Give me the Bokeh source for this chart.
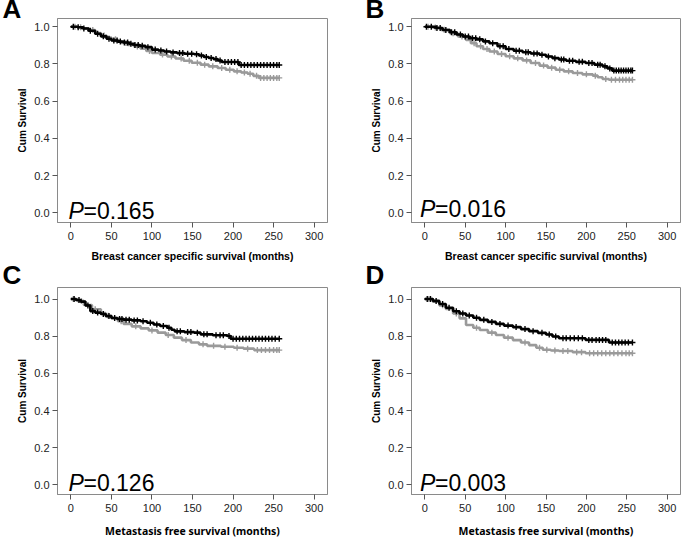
import numpy as np
from bokeh.plotting import figure
from bokeh.models import Label, FixedTicker, NumeralTickFormatter, Range1d
from bokeh.layouts import column, row
from bokeh.embed import file_html
from bokeh.resources import INLINE

# ---------------- data ----------------
x_ticks = [0, 50, 100, 150, 200, 250, 300]
y_ticks = [0.0, 0.2, 0.4, 0.6, 0.8, 1.0]
panel_letters = ["A", "B", "C", "D"]
x_labels = ["Breast cancer specific survival (months)",
            "Breast cancer specific survival (months)",
            "Metastasis free survival (months)",
            "Metastasis free survival (months)"]
p_values = ["=0.165", "=0.016", "=0.126", "=0.003"]
y_label = "Cum Survival"

# Panel A
A_black_t = [0, 8, 15, 22, 30, 37, 44, 50, 58, 65, 72, 78, 85, 92, 100, 108, 115, 123, 131, 140, 152, 158, 164, 170, 176, 181, 186, 207]
A_black_s = [1.000, 0.997, 0.990, 0.978, 0.962, 0.948, 0.935, 0.926, 0.920, 0.915, 0.908, 0.902, 0.897, 0.890, 0.877, 0.872, 0.867, 0.862, 0.858, 0.855, 0.852, 0.845, 0.837, 0.832, 0.826, 0.818, 0.810, 0.794]
A_black_end = 257
A_gray_t = [0, 8, 15, 22, 30, 37, 44, 50, 56, 62, 70, 78, 86, 93, 100, 110, 119, 129, 139, 149, 160, 170, 181, 191, 201, 210, 218, 225, 232]
A_gray_s = [1.000, 0.997, 0.992, 0.982, 0.966, 0.953, 0.942, 0.932, 0.922, 0.912, 0.902, 0.893, 0.882, 0.870, 0.859, 0.850, 0.840, 0.829, 0.817, 0.806, 0.796, 0.787, 0.778, 0.769, 0.760, 0.754, 0.747, 0.736, 0.725]
A_gray_end = 257
A_black_cens = [3, 9, 16, 24, 33, 40, 47, 53, 57, 61, 66, 70, 74, 79, 83, 88, 95, 104, 111, 118, 126, 134, 138, 144, 149, 155, 161, 167, 173, 179, 184, 190, 194, 198, 202, 206, 210, 214, 218, 222, 226, 230, 234, 238, 242, 246, 250, 254, 257]
A_gray_cens = [5, 12, 27, 41, 55, 68, 82, 97, 113, 124, 136, 146, 156, 165, 175, 186, 196, 205, 214, 221, 229, 234, 238, 242, 246, 250, 254, 257]

# Panel B
B_black_t = [0, 14, 22, 31, 39, 47, 55, 64, 72, 80, 90, 100, 110, 121, 131, 142, 150, 158, 166, 175, 187, 199, 210, 220, 226, 232]
B_black_s = [1.000, 0.993, 0.982, 0.970, 0.958, 0.947, 0.938, 0.932, 0.921, 0.911, 0.895, 0.880, 0.871, 0.863, 0.856, 0.849, 0.840, 0.831, 0.824, 0.817, 0.811, 0.805, 0.796, 0.787, 0.776, 0.764]
B_black_end = 257
B_gray_t = [0, 10, 20, 31, 41, 51, 57, 64, 72, 80, 90, 100, 110, 121, 131, 142, 152, 162, 172, 183, 195, 208, 214, 220, 228]
B_gray_s = [1.000, 0.995, 0.983, 0.965, 0.947, 0.929, 0.911, 0.895, 0.880, 0.867, 0.853, 0.841, 0.830, 0.819, 0.805, 0.791, 0.780, 0.769, 0.760, 0.751, 0.744, 0.737, 0.728, 0.719, 0.715]
B_gray_end = 257
B_black_cens = [2, 8, 15, 19, 26, 33, 37, 44, 50, 54, 59, 63, 68, 75, 84, 93, 97, 104, 113, 117, 125, 128, 135, 139, 145, 153, 161, 169, 172, 179, 183, 191, 195, 203, 207, 214, 217, 223, 229, 234, 237, 240, 243, 246, 249, 252, 255, 257]
B_gray_cens = [4, 13, 24, 35, 46, 61, 69, 77, 86, 95, 105, 115, 126, 137, 147, 157, 167, 178, 189, 200, 211, 224, 231, 236, 241, 245, 249, 253, 257]

# Panel C
C_black_t = [0, 6, 12, 18, 24, 30, 37, 43, 50, 57, 65, 75, 86, 94, 102, 110, 119, 124, 128, 140, 152, 160, 175, 193, 197]
C_black_s = [1.000, 0.995, 0.986, 0.965, 0.935, 0.927, 0.919, 0.908, 0.898, 0.893, 0.889, 0.885, 0.880, 0.872, 0.863, 0.855, 0.845, 0.835, 0.826, 0.822, 0.819, 0.810, 0.805, 0.801, 0.786]
C_black_end = 257
C_gray_t = [0, 8, 16, 26, 37, 43, 50, 58, 65, 75, 86, 96, 107, 117, 127, 137, 148, 158, 168, 185, 201, 213, 226]
C_gray_s = [1.000, 0.990, 0.968, 0.945, 0.924, 0.910, 0.897, 0.880, 0.866, 0.853, 0.842, 0.831, 0.819, 0.806, 0.792, 0.779, 0.766, 0.756, 0.748, 0.743, 0.738, 0.733, 0.725]
C_gray_end = 257
C_black_cens = [4, 10, 21, 27, 33, 40, 47, 54, 60, 63, 68, 72, 78, 82, 89, 98, 106, 114, 121, 131, 135, 144, 148, 156, 164, 168, 179, 184, 188, 195, 200, 204, 208, 212, 216, 220, 224, 228, 232, 236, 240, 244, 248, 252, 257]
C_gray_cens = [3, 13, 30, 46, 62, 80, 100, 120, 142, 163, 176, 190, 205, 218, 230, 235, 240, 245, 250, 254, 257]

# Panel D
D_black_t = [0, 10, 18, 26, 35, 43, 51, 60, 68, 78, 88, 98, 109, 119, 129, 140, 150, 158, 166, 199, 228]
D_black_s = [1.000, 0.990, 0.973, 0.953, 0.934, 0.922, 0.911, 0.899, 0.888, 0.877, 0.866, 0.857, 0.849, 0.838, 0.827, 0.818, 0.809, 0.798, 0.789, 0.780, 0.766]
D_black_end = 257
D_gray_t = [0, 10, 18, 26, 35, 43, 51, 60, 68, 78, 88, 98, 109, 119, 129, 138, 146, 156, 166, 183, 199]
D_gray_s = [1.000, 0.985, 0.966, 0.946, 0.922, 0.896, 0.860, 0.845, 0.833, 0.819, 0.806, 0.792, 0.779, 0.766, 0.752, 0.738, 0.727, 0.723, 0.720, 0.714, 0.708]
D_gray_end = 257
D_black_cens = [3, 7, 14, 22, 30, 39, 47, 55, 64, 73, 83, 93, 103, 113, 124, 134, 145, 154, 162, 171, 175, 180, 185, 190, 195, 203, 207, 212, 216, 220, 224, 232, 236, 240, 244, 248, 252, 257]
D_gray_cens = [5, 22, 39, 64, 83, 103, 124, 142, 151, 161, 171, 177, 188, 194, 204, 209, 214, 219, 224, 229, 234, 239, 244, 249, 253, 257]

curves = [
    (A_black_t, A_black_s, A_black_end, A_black_cens, A_gray_t, A_gray_s, A_gray_end, A_gray_cens),
    (B_black_t, B_black_s, B_black_end, B_black_cens, B_gray_t, B_gray_s, B_gray_end, B_gray_cens),
    (C_black_t, C_black_s, C_black_end, C_black_cens, C_gray_t, C_gray_s, C_gray_end, C_gray_cens),
    (D_black_t, D_black_s, D_black_end, D_black_cens, D_gray_t, D_gray_s, D_gray_end, D_gray_cens),
]

BLACK = "#000000"
GRAY = "#9a9a9a"
FRAME = "#8a8a8a"


def draw_km(p, t, s, end, cens, color):
    xs = list(t) + [end]
    ys = list(s) + [s[-1]]
    p.step(x=xs, y=ys, mode="after", line_color=color, line_width=2.6)
    idx = np.searchsorted(np.array(t), np.array(cens), side="right") - 1
    cy = np.array(s)[idx]
    p.scatter(x=cens, y=cy, marker="cross", size=6, line_color=color, line_width=1.4)


def make_panel(i, w, h, bl, br, title_standoff, bb, y_top, letter_x, xlabel_font, xlabel_standoff, p_x, p_y):
    p = figure(width=w, height=h, output_backend="svg", toolbar_location=None,
               x_range=Range1d(-16.5, 316.5), y_range=Range1d(-0.052, y_top),
               min_border_left=bl, min_border_right=br, min_border_top=0,
               min_border_bottom=bb)
    p.xgrid.visible = False
    p.ygrid.visible = False
    p.outline_line_color = FRAME
    p.outline_line_width = 1
    p.background_fill_color = "white"
    p.border_fill_color = "white"

    # panel letter as the figure title, pulled to the canvas' left edge
    p.title.text = panel_letters[i]
    p.title.align = "left"
    p.title.offset = letter_x - bl
    p.title.vertical_align = "top"
    p.title.standoff = title_standoff
    p.title.text_font = "Liberation Sans"
    p.title.text_font_style = "bold"
    p.title.text_font_size = "26px"
    p.title.text_color = "#000000"

    p.xaxis.ticker = FixedTicker(ticks=x_ticks)
    p.yaxis.ticker = FixedTicker(ticks=y_ticks)
    p.yaxis.formatter = NumeralTickFormatter(format="0.0")
    for ax in (p.xaxis, p.yaxis):
        ax.axis_line_color = FRAME
        ax.major_tick_line_color = "#555555"
        ax.major_tick_out = 5
        ax.major_tick_in = 0
        ax.minor_tick_line_color = None
        ax.major_label_text_font = "Liberation Sans"
        ax.major_label_text_font_size = "11px"
        ax.major_label_text_color = "#222222"
        ax.axis_label_text_color = "#000000"
        ax.axis_label_text_font_style = "bold"
    p.yaxis.major_label_standoff = 3
    p.xaxis.major_label_standoff = 4
    p.yaxis.axis_label = y_label
    p.yaxis.axis_label_text_font = "Liberation Sans"
    p.yaxis.axis_label_text_font_size = "10px"
    p.yaxis.axis_label_standoff = 3
    p.xaxis.axis_label = x_labels[i]
    p.xaxis.axis_label_text_font = xlabel_font
    p.xaxis.axis_label_text_font_size = "10.5px"
    p.xaxis.axis_label_standoff = xlabel_standoff

    bt_, bs_, be_, bc_, gt_, gs_, ge_, gc_ = curves[i]
    draw_km(p, gt_, gs_, ge_, gc_, GRAY)
    draw_km(p, bt_, bs_, be_, bc_, BLACK)

    p.add_layout(Label(x=p_x, y=p_y, text="P", text_font="Liberation Sans",
                       text_font_style="italic", text_font_size="23px",
                       text_baseline="alphabetic", text_color="#000000"))
    p.add_layout(Label(x=p_x, y=p_y, x_offset=15, text=p_values[i],
                       text_font="Liberation Sans", text_font_size="23px",
                       text_baseline="alphabetic", text_color="#000000"))
    return p


pA = make_panel(0, 340, 264, 57, 13, -14, 40, 1.044, 2, "Liberation Sans", 7, -3, 0.012)
pB = make_panel(1, 345, 264, 71, 5, -14, 40, 1.044, 25, "Liberation Sans", 7, -6, 0.018)
pC = make_panel(2, 340, 276, 57, 13, -9, 46, 1.062, 2, "Noto Sans", 9, -3, 0.012)
pD = make_panel(3, 345, 276, 71, 5, -9, 46, 1.062, 25, "Noto Sans", 9, -6, 0.010)

layout = column(row(pA, pB, spacing=0), row(pC, pD, spacing=0), spacing=0)

open("out.html", "w").write(file_html(layout, INLINE))
